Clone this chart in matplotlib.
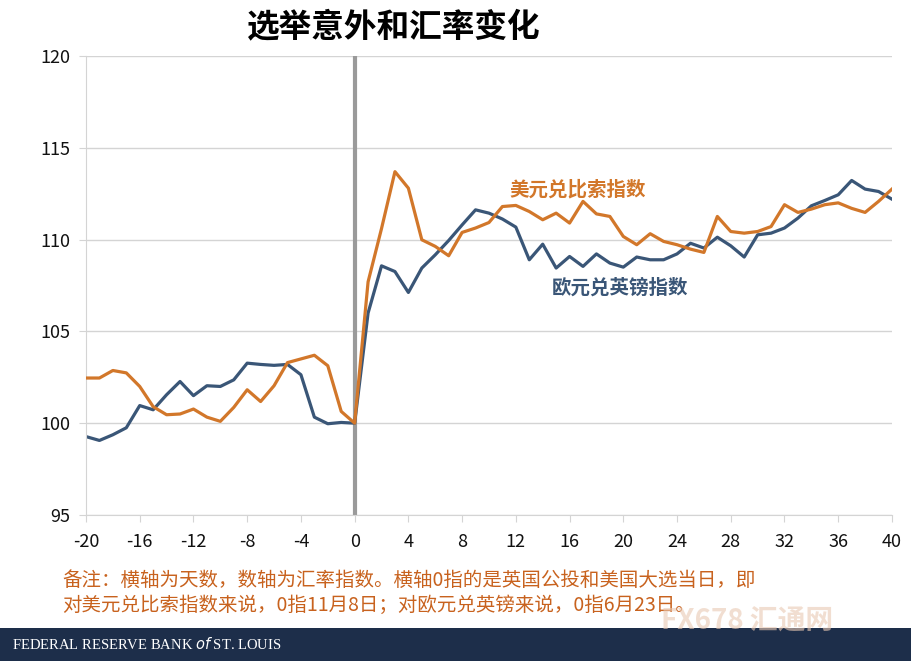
import matplotlib
matplotlib.use("Agg")
import matplotlib.pyplot as plt
from matplotlib.patches import Rectangle

plt.rcParams['font.family'] = ['Noto Sans CJK SC', 'DejaVu Sans']
plt.rcParams['axes.unicode_minus'] = False

days = list(range(-20, 41))

# 美元兑比索指数
usd_mxn = [102.46, 102.46, 102.87, 102.74, 102.0, 100.9, 100.46, 100.5, 100.77, 100.33,
           100.1, 100.86, 101.82, 101.18, 102.04, 103.3, 103.5, 103.7, 103.13, 100.64,
           100.0,
           107.7, 110.6, 113.7, 112.8, 109.99, 109.63, 109.12, 110.39, 110.63, 110.93,
           111.8, 111.86, 111.53, 111.08, 111.44, 110.9, 112.08, 111.4, 111.26, 110.17,
           109.72, 110.32, 109.9, 109.72, 109.48, 109.3, 111.26, 110.44, 110.35, 110.44,
           110.71, 111.9, 111.48, 111.66, 111.9, 112.0, 111.7, 111.48, 112.08, 112.75]

# 欧元兑英镑指数
eur_gbp = [99.27, 99.06, 99.37, 99.75, 100.96, 100.73, 101.55, 102.27, 101.5, 102.04,
           102.0, 102.36, 103.27, 103.2, 103.15, 103.2, 102.64, 100.33, 99.97, 100.04,
           100.0,
           106.0, 108.57, 108.26, 107.12, 108.45, 109.17, 109.95, 110.8, 111.62, 111.44,
           111.12, 110.68, 108.9, 109.75, 108.45, 109.08, 108.54, 109.22, 108.72, 108.5,
           109.05, 108.9, 108.9, 109.22, 109.8, 109.54, 110.13, 109.66, 109.05, 110.26,
           110.35, 110.63, 111.17, 111.84, 112.13, 112.44, 113.22, 112.75, 112.62, 112.2]

orange = '#d2772a'
blue = '#3a5677'

fig = plt.figure(figsize=(9.11, 6.61), dpi=100)
ax = fig.add_axes([0.0944, 0.2209, 0.8847, 0.6944])

ax.set_xlim(-20, 40)
ax.set_ylim(95, 120)
ax.set_xticks(range(-20, 41, 4))
ax.set_yticks(range(95, 121, 5))
ax.grid(axis='y', color='#d4d4d4', linewidth=1)
ax.set_axisbelow(True)
for s in ['top', 'right']:
    ax.spines[s].set_visible(False)
ax.spines['left'].set_color('#d4d4d4')
ax.spines['bottom'].set_color('#d4d4d4')
ax.tick_params(axis='both', colors='#d4d4d4', labelcolor='#111111', labelsize=13, length=5)
ax.tick_params(axis='x', pad=8)
ax.tick_params(axis='y', pad=6)

ax.axvline(0, color='#9a9a9a', linewidth=3, zorder=1)
ax.plot(days, usd_mxn, color=orange, linewidth=2.3, zorder=3)
ax.plot(days, eur_gbp, color=blue, linewidth=2.3, zorder=2)

ax.text(11.5, 112.7, '美元兑比索指数', color=orange, fontsize=14, fontweight='bold', va='center')
ax.text(14.7, 107.35, '欧元兑英镑指数', color=blue, fontsize=14, fontweight='bold', va='center')

fig.text(0.432, 0.959, '选举意外和汇率变化', fontsize=23.5, fontweight='bold', ha='center', va='center')

note_color = '#c8621e'
fig.text(0.068, 0.122, '备注：横轴为天数，数轴为汇率指数。横轴0指的是英国公投和美国大选当日，即',
         color=note_color, fontsize=14, va='center')
fig.text(0.068, 0.084, '对美元兑比索指数来说，0指11月8日；对欧元兑英镑来说，0指6月23日。',
         color=note_color, fontsize=14, va='center')

# watermark
fig.text(0.82, 0.059, 'FX678 汇通网', color='#e9c9b3', fontsize=20, fontweight='bold',
         ha='center', va='center', alpha=0.6)

fig.patches.append(Rectangle((0, 0), 1, 33 / 661, transform=fig.transFigure,
                             facecolor='#1d2e4a', edgecolor='none', zorder=0))
fig.text(0.013, 0.025, 'FEDERAL RESERVE BANK $\\it{of}$ ST. LOUIS', color='white',
         fontsize=10.5, family='Liberation Serif', va='center')

fig.savefig('out.png', dpi=100)
